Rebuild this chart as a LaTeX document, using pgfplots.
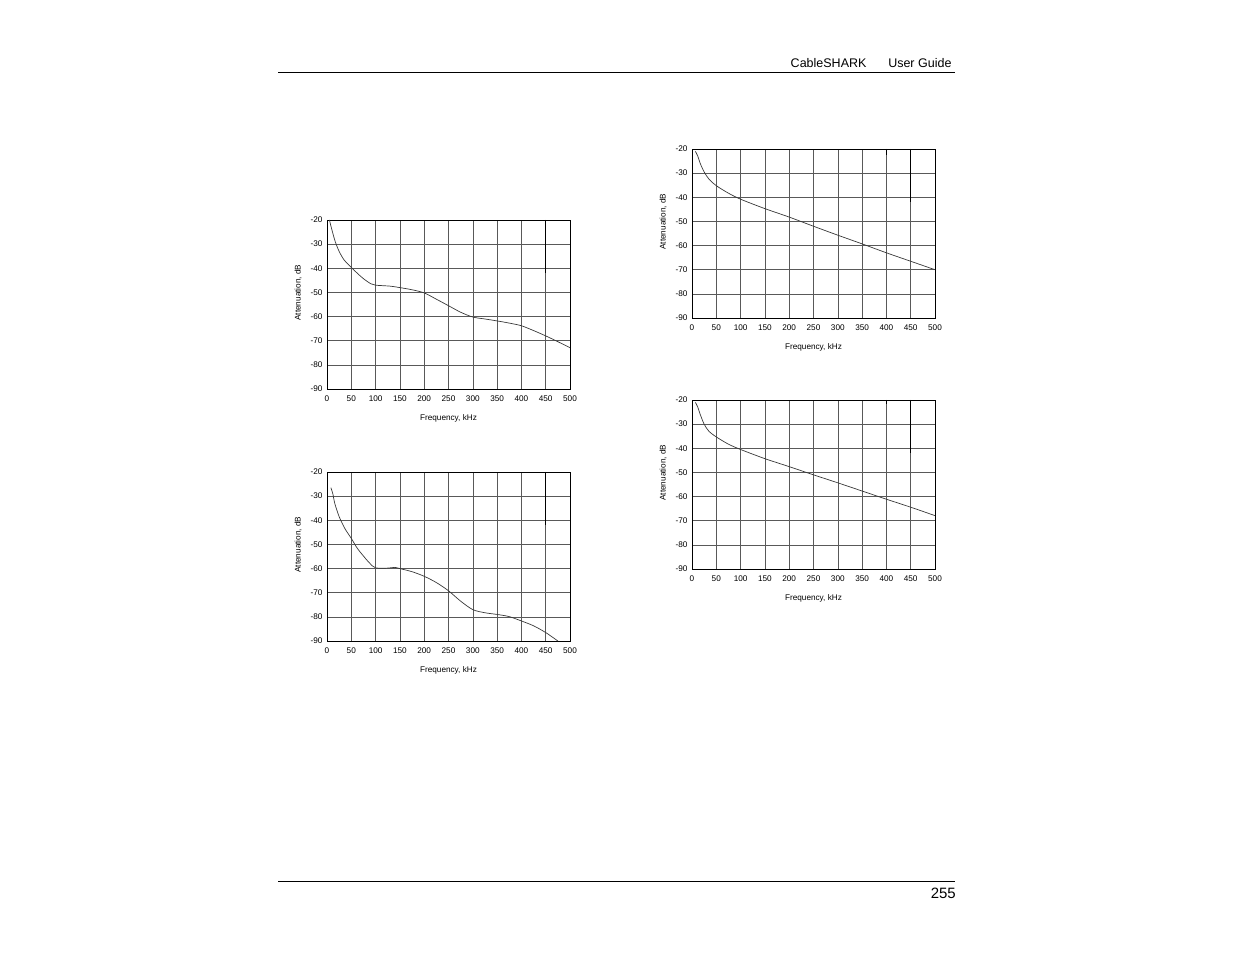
\documentclass[border=0pt]{standalone}
\usepackage{fontspec}
\setmainfont{Liberation Sans}
\usepackage{pgfplots}
\pgfplotsset{compat=1.18}

% common look of the four attenuation charts
\pgfplotsset{
  attn/.style={
    scale only axis, width=243pt, height=169pt,
    anchor=south west,
    xmin=0, xmax=500, ymin=-90, ymax=-20,
    xtick={0,50,...,500}, ytick={-90,-80,...,-20},
    grid=major,
    major grid style={black!65, line width=0.6pt},
    axis line style={black, line width=0.7pt},
    major tick length=0pt,
    tick label style={font=\fontsize{8.2}{9}\selectfont},
    /pgf/number format/assume math mode=true,
    xlabel={Frequency, kHz}, ylabel={Attenuation, dB},
    label style={font=\fontsize{8.2}{9}\selectfont},
    xticklabel style={yshift=-3pt},
    xlabel style={yshift=-6pt},
    yticklabel style={xshift=-1pt},
    ylabel style={at={(ticklabel cs:0.57)}, yshift=2pt},
    clip=false,
  },
  curve/.style={black!78, line width=0.7pt, smooth, tension=0.5},
  mark450/.style={black, line width=0.8pt},
}

\begin{document}
\begin{tikzpicture}
\path[use as bounding box] (0pt,0pt) rectangle (1235pt,954pt);

% header and footer
\draw[line width=1pt] (278pt,881.7pt) -- (955pt,881.7pt);
\node[anchor=base east, font=\fontsize{12.5}{14}\selectfont] at (870pt,886pt) {CableSHARK};
\node[anchor=base east, font=\fontsize{12.5}{14}\selectfont] at (955pt,886pt) {User Guide};
\draw[line width=1pt] (278pt,72.3pt) -- (955pt,72.3pt);
\node[anchor=base east, font=\fontsize{15}{17}\selectfont, inner sep=0pt] at (956pt,56pt) {255};

% top left
\begin{axis}[attn, at={(327pt,565pt)}]
\addplot[curve] coordinates {
 (5,-20) (10,-24) (17,-29) (25,-33) (35,-36.5) (50,-39.6) (62,-42) (75,-44.3)
 (90,-46.4) (100,-47) (130,-47.4) (150,-48) (175,-48.9) (200,-50.2)
 (225,-52.8) (250,-55.5) (275,-58.2) (300,-60.2) (325,-61) (350,-61.8)
 (375,-62.7) (400,-63.8) (425,-65.8) (450,-68) (475,-70.4) (500,-72.9)};
\addplot[mark450] coordinates {(450,-20) (450,-42)};
\end{axis}

% bottom left
\begin{axis}[attn, at={(327pt,313pt)}]
\addplot[curve] coordinates {
 (8,-26.5) (12,-29) (16,-33) (25,-38.5) (37,-43.5) (50,-47.5) (62,-51.5)
 (75,-54.8) (88,-57.8) (100,-59.7) (125,-59.8) (140,-59.5) (150,-60)
 (175,-61.3) (200,-63.2) (225,-65.8) (250,-69.2) (275,-73.5) (300,-77)
 (325,-78.3) (350,-79) (375,-79.9) (400,-81.7) (425,-83.7) (450,-86.5)
 (475,-90)};
\addplot[mark450] coordinates {(450,-20) (450,-42)};
\end{axis}

% top right
\begin{axis}[attn, at={(692pt,636pt)}]
\addplot[curve] coordinates {
 (7,-21) (12,-23) (17,-26) (25,-29.5) (35,-32.5) (50,-35.2) (75,-38.3)
 (100,-40.8) (150,-44.7) (200,-48.2) (250,-52) (300,-55.7) (350,-59.3)
 (400,-63) (450,-66.5) (500,-70)};
\addplot[mark450] coordinates {(450,-20) (450,-42)};
\addplot[mark450] coordinates {(400,-20) (400,-22.5)};
\end{axis}

% bottom right
\begin{axis}[attn, at={(692pt,385pt)}]
\addplot[curve] coordinates {
 (7,-21) (12,-23) (17,-26) (25,-30) (35,-33) (50,-35.3) (75,-38.3)
 (100,-40.5) (150,-44.3) (200,-47.6) (250,-51) (300,-54.3) (350,-57.7)
 (400,-61.1) (450,-64.4) (500,-67.9)};
\addplot[mark450] coordinates {(450,-20) (450,-42)};
\addplot[mark450] coordinates {(400,-20) (400,-21.5)};
\end{axis}
\end{tikzpicture}
\end{document}
